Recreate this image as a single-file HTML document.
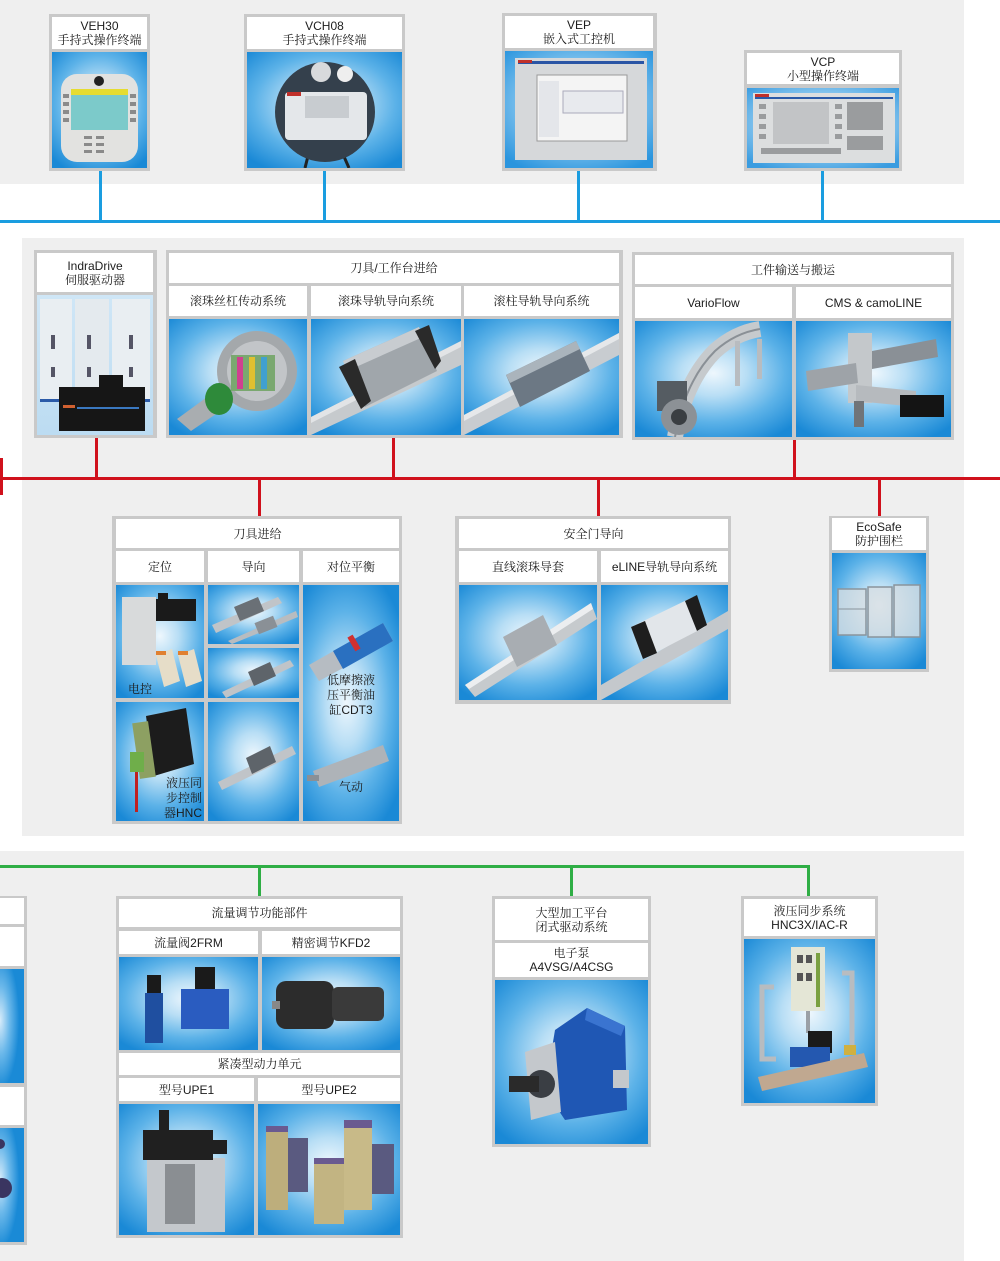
<!DOCTYPE html>
<html><head><meta charset="utf-8">
<style>
*{margin:0;padding:0;box-sizing:border-box}
body{width:1000px;height:1261px;background:#fff;position:relative;overflow:hidden;font-family:"Liberation Sans","Noto Serif CJK SC",serif;color:#1c1c1c}
.p{position:absolute;background:#efefef}
.b{position:absolute;background:#c9c9c9}
.c{position:absolute;background:#fff;display:flex;align-items:center;justify-content:center;text-align:center;font-size:12px;line-height:14px}
.i{position:absolute;background:radial-gradient(ellipse 70% 65% at 50% 45%,#eef7fd 0%,#b8def5 30%,#5cb2e8 65%,#1a89d6 100%);overflow:hidden}
.i svg{position:absolute;left:0;top:0;width:100%;height:100%}
.l{position:absolute}
.t{position:absolute;font-size:12px;line-height:15px;color:#1c1c1c}
</style></head><body>

<!-- panels -->
<div class="p" style="left:0;top:0;width:964px;height:184px"></div>
<div class="p" style="left:22px;top:238px;width:942px;height:598px"></div>
<div class="p" style="left:0;top:851px;width:964px;height:410px"></div>

<!-- blue bus -->
<div class="l" style="left:0;top:220px;width:1000px;height:3px;background:#1a9de0"></div>
<div class="l" style="left:99px;top:170px;width:3px;height:52px;background:#1a9de0"></div>
<div class="l" style="left:323px;top:170px;width:3px;height:52px;background:#1a9de0"></div>
<div class="l" style="left:577px;top:170px;width:3px;height:52px;background:#1a9de0"></div>
<div class="l" style="left:821px;top:170px;width:3px;height:52px;background:#1a9de0"></div>

<!-- red bus -->
<div class="l" style="left:0;top:477px;width:1000px;height:3px;background:#d0111c"></div>
<div class="l" style="left:0;top:458px;width:3px;height:37px;background:#d0111c"></div>
<div class="l" style="left:95px;top:437px;width:3px;height:42px;background:#d0111c"></div>
<div class="l" style="left:392px;top:437px;width:3px;height:42px;background:#d0111c"></div>
<div class="l" style="left:793px;top:439px;width:3px;height:40px;background:#d0111c"></div>
<div class="l" style="left:258px;top:478px;width:3px;height:39px;background:#d0111c"></div>
<div class="l" style="left:597px;top:478px;width:3px;height:39px;background:#d0111c"></div>
<div class="l" style="left:878px;top:478px;width:3px;height:39px;background:#d0111c"></div>

<!-- green bus -->
<div class="l" style="left:0;top:865px;width:810px;height:3px;background:#2fae45"></div>
<div class="l" style="left:258px;top:865px;width:3px;height:32px;background:#2fae45"></div>
<div class="l" style="left:570px;top:865px;width:3px;height:32px;background:#2fae45"></div>
<div class="l" style="left:807px;top:865px;width:3px;height:32px;background:#2fae45"></div>

<!-- ===== TOP ROW ===== -->
<!-- VEH30 -->
<div class="b" style="left:49px;top:14px;width:101px;height:157px"></div>
<div class="c" style="left:52px;top:17px;width:95px;height:32px">VEH30<br>手持式操作终端</div>
<div class="i" style="left:52px;top:52px;width:95px;height:116px"><svg viewBox="0 0 95 116" preserveAspectRatio="none">
<rect x="9" y="22" width="77" height="88" rx="16" fill="#e2e2e0"/>
<circle cx="47" cy="29" r="5" fill="#222"/>
<rect x="19" y="37" width="57" height="6" fill="#e6dc30"/>
<rect x="19" y="43" width="57" height="35" fill="#7ccaca"/>
<g fill="#8a8a8a"><rect x="11" y="42" width="6" height="4"/><rect x="11" y="50" width="6" height="4"/><rect x="11" y="58" width="6" height="4"/><rect x="11" y="66" width="6" height="4"/><rect x="78" y="42" width="6" height="4"/><rect x="78" y="50" width="6" height="4"/><rect x="78" y="58" width="6" height="4"/><rect x="78" y="66" width="6" height="4"/>
<rect x="32" y="84" width="8" height="3"/><rect x="44" y="84" width="8" height="3"/><rect x="32" y="91" width="8" height="3"/><rect x="44" y="91" width="8" height="3"/><rect x="32" y="98" width="8" height="3"/><rect x="44" y="98" width="8" height="3"/></g>
</svg></div>

<!-- VCH08 -->
<div class="b" style="left:244px;top:14px;width:161px;height:157px"></div>
<div class="c" style="left:247px;top:17px;width:155px;height:32px">VCH08<br>手持式操作终端</div>
<div class="i" style="left:247px;top:52px;width:155px;height:116px"><svg viewBox="0 0 155 116" preserveAspectRatio="none">
<path d="M62 100 L58 116 M95 100 L102 116" stroke="#222" stroke-width="3"/>
<circle cx="78" cy="60" r="50" fill="#34404c"/>
<circle cx="74" cy="20" r="10" fill="#d8dadc"/><circle cx="98" cy="22" r="8" fill="#eeeeee"/>
<rect x="38" y="40" width="82" height="48" rx="4" fill="#e4e7ea"/>
<rect x="58" y="44" width="44" height="22" fill="#c8ccd0"/>
<rect x="40" y="40" width="14" height="4" fill="#c0302a"/>
</svg></div>

<!-- VEP -->
<div class="b" style="left:502px;top:13px;width:155px;height:158px"></div>
<div class="c" style="left:505px;top:16px;width:148px;height:32px">VEP<br>嵌入式工控机</div>
<div class="i" style="left:505px;top:51px;width:148px;height:117px;background:radial-gradient(ellipse 70% 65% at 50% 45%,#e8f4fc 0%,#8fcaf0 45%,#2a95de 100%)"><svg viewBox="0 0 148 117" preserveAspectRatio="none">
<rect x="10" y="7" width="132" height="102" fill="#d6d8da"/>
<rect x="13" y="10" width="126" height="3" fill="#2a55a5"/>
<rect x="13" y="9" width="14" height="3" fill="#c0302a"/>
<rect x="32" y="24" width="90" height="66" fill="#f4f4f4" stroke="#9a9a9a"/>
<rect x="34" y="30" width="20" height="56" fill="#e4e6ea"/>
<rect x="58" y="40" width="60" height="22" fill="#e8eaee" stroke="#aab"/>
</svg></div>

<!-- VCP -->
<div class="b" style="left:744px;top:50px;width:158px;height:121px"></div>
<div class="c" style="left:747px;top:53px;width:152px;height:31px">VCP<br>小型操作终端</div>
<div class="i" style="left:747px;top:88px;width:152px;height:80px;background:radial-gradient(ellipse 70% 65% at 50% 45%,#e8f4fc 0%,#9fd2f2 45%,#3a9ce0 100%)"><svg viewBox="0 0 152 80" preserveAspectRatio="none">
<rect x="6" y="5" width="142" height="70" fill="#dcdedf"/>
<rect x="8" y="9" width="138" height="2" fill="#2a5aa8"/>
<rect x="8" y="6" width="14" height="3" fill="#c0302a"/>
<rect x="26" y="14" width="56" height="42" fill="#c2c4c6"/>
<g fill="#9a9c9e"><rect x="12" y="16" width="7" height="5"/><rect x="12" y="26" width="7" height="5"/><rect x="12" y="36" width="7" height="5"/><rect x="12" y="46" width="7" height="5"/><rect x="88" y="16" width="7" height="5"/><rect x="88" y="26" width="7" height="5"/><rect x="88" y="36" width="7" height="5"/><rect x="88" y="46" width="7" height="5"/>
<rect x="100" y="14" width="36" height="28"/><rect x="100" y="48" width="36" height="14"/>
<rect x="14" y="60" width="80" height="6"/></g>
</svg></div>

<!-- ===== MIDDLE ROW ===== -->
<!-- IndraDrive -->
<div class="b" style="left:34px;top:250px;width:123px;height:188px"></div>
<div class="c" style="left:37px;top:253px;width:116px;height:39px">IndraDrive<br>伺服驱动器</div>
<div class="i" style="left:37px;top:295px;width:116px;height:140px;background:linear-gradient(180deg,#cfe6f6,#bcdcf2)"><svg viewBox="0 0 116 140" preserveAspectRatio="none">
<rect x="3" y="4" width="32" height="100" fill="#e9eef2"/>
<rect x="38" y="4" width="34" height="100" fill="#e4eaee"/>
<rect x="75" y="4" width="38" height="100" fill="#e9eef2"/>
<g fill="#556"><rect x="14" y="40" width="4" height="14"/><rect x="50" y="40" width="4" height="14"/><rect x="92" y="40" width="4" height="14"/><rect x="14" y="72" width="4" height="10"/><rect x="50" y="72" width="4" height="10"/><rect x="92" y="72" width="4" height="10"/></g>
<rect x="3" y="104" width="110" height="3" fill="#2a5aa8"/>
<rect x="22" y="92" width="86" height="44" fill="#161616"/>
<rect x="62" y="80" width="24" height="16" fill="#161616"/>
<rect x="26" y="110" width="12" height="3" fill="#d06030"/>
<rect x="40" y="112" width="62" height="2" fill="#3a78c0"/>
</svg></div>

<!-- 刀具/工作台进给 -->
<div class="b" style="left:166px;top:250px;width:457px;height:188px"></div>
<div class="c" style="left:169px;top:253px;width:450px;height:30px">刀具/工作台进给</div>
<div class="c" style="left:169px;top:286px;width:138px;height:30px">滚珠丝杠传动系统</div>
<div class="c" style="left:311px;top:286px;width:150px;height:30px">滚珠导轨导向系统</div>
<div class="c" style="left:464px;top:286px;width:155px;height:30px">滚柱导轨导向系统</div>
<div class="i" style="left:169px;top:319px;width:138px;height:116px"><svg viewBox="0 0 138 116" preserveAspectRatio="none">
<polygon points="8,100 60,62 72,78 22,112" fill="#a9adb0"/>
<circle cx="88" cy="52" r="40" fill="#a4a8ab"/>
<circle cx="88" cy="52" r="30" fill="#c2c5c8"/>
<rect x="62" y="36" width="44" height="36" fill="#7aa870"/>
<rect x="68" y="38" width="6" height="32" fill="#d04090"/><rect x="80" y="38" width="6" height="32" fill="#e0c030"/><rect x="92" y="38" width="6" height="32" fill="#40a0d0"/>
<ellipse cx="50" cy="80" rx="14" ry="16" fill="#2e8a3a"/>
</svg></div>
<div class="i" style="left:311px;top:319px;width:150px;height:116px"><svg viewBox="0 0 150 116" preserveAspectRatio="none">
<polygon points="0,98 150,22 150,46 0,116" fill="#c6cacd"/>
<polygon points="0,98 150,22 150,28 0,104" fill="#e2e4e6"/>
<polygon points="32,42 108,8 126,52 54,88" fill="#a0a6ab"/>
<polygon points="32,42 108,8 112,18 36,52" fill="#c8ccd0"/>
<polygon points="28,48 44,40 60,82 50,90" fill="#2a2a2a"/>
<polygon points="104,12 118,6 130,42 124,50" fill="#2a2a2a"/>
</svg></div>
<div class="i" style="left:464px;top:319px;width:155px;height:116px"><svg viewBox="0 0 155 116" preserveAspectRatio="none">
<polygon points="0,96 155,14 155,36 0,116" fill="#c8ccd0"/>
<polygon points="0,96 155,14 155,20 0,102" fill="#e6e8ea"/>
<polygon points="42,56 112,22 126,52 56,88" fill="#6c7884"/>
<polygon points="42,56 112,22 116,30 46,64" fill="#aab4bc"/>
</svg></div>

<!-- 工件输送与搬运 -->
<div class="b" style="left:632px;top:252px;width:322px;height:188px"></div>
<div class="c" style="left:635px;top:255px;width:316px;height:29px">工件输送与搬运</div>
<div class="c" style="left:635px;top:287px;width:157px;height:31px">VarioFlow</div>
<div class="c" style="left:796px;top:287px;width:155px;height:31px">CMS &amp; camoLINE</div>
<div class="i" style="left:635px;top:321px;width:157px;height:116px"><svg viewBox="0 0 157 116" preserveAspectRatio="none">
<path d="M40 116 Q50 60 80 30 Q100 12 125 8" stroke="#c6cacd" stroke-width="16" fill="none"/>
<path d="M40 116 Q50 60 80 30 Q100 12 125 8" stroke="#8a9096" stroke-width="2" fill="none"/>
<rect x="100" y="20" width="5" height="45" fill="#b8bcc0"/>
<rect x="122" y="18" width="5" height="40" fill="#b8bcc0"/>
<rect x="22" y="60" width="30" height="30" fill="#555c62"/>
<circle cx="44" cy="96" r="18" fill="#8c9196"/>
<circle cx="44" cy="96" r="8" fill="#3a3e42"/>
</svg></div>
<div class="i" style="left:796px;top:321px;width:155px;height:116px"><svg viewBox="0 0 155 116" preserveAspectRatio="none">
<rect x="52" y="12" width="24" height="70" fill="#c4c8cb"/>
<polygon points="76,30 140,18 142,36 76,48" fill="#8a9096"/>
<polygon points="10,50 60,42 62,62 12,70" fill="#9ea3a8"/>
<polygon points="60,64 120,70 120,86 60,80" fill="#b6babe"/>
<rect x="104" y="74" width="44" height="22" fill="#141414"/>
<rect x="58" y="80" width="10" height="26" fill="#707478"/>
</svg></div>

<!-- 刀具进给 -->
<div class="b" style="left:112px;top:516px;width:290px;height:308px"></div>
<div class="c" style="left:116px;top:519px;width:283px;height:29px">刀具进给</div>
<div class="c" style="left:116px;top:551px;width:88px;height:31px">定位</div>
<div class="c" style="left:208px;top:551px;width:91px;height:31px">导向</div>
<div class="c" style="left:303px;top:551px;width:96px;height:31px">对位平衡</div>
<div class="i" style="left:116px;top:585px;width:88px;height:113px"><svg viewBox="0 0 88 113" preserveAspectRatio="none">
<rect x="6" y="12" width="34" height="68" fill="#d8dadb"/>
<rect x="40" y="14" width="40" height="22" fill="#1a1a1a"/>
<rect x="42" y="8" width="10" height="10" fill="#1a1a1a"/>
<polygon points="40,70 56,64 64,96 48,102" fill="#e6ddc8"/>
<polygon points="62,70 78,64 86,96 70,102" fill="#e6ddc8"/>
<rect x="40" y="66" width="10" height="4" fill="#e08030"/><rect x="62" y="66" width="10" height="4" fill="#e08030"/>
</svg><div class="t" style="left:12px;top:97px">电控</div></div>
<div class="i" style="left:116px;top:702px;width:88px;height:119px"><svg viewBox="0 0 88 119" preserveAspectRatio="none">
<polygon points="30,14 70,6 78,62 38,74" fill="#1c1c1c"/>
<rect x="20" y="20" width="16" height="56" fill="#8da062" transform="rotate(-8 28 48)"/>
<rect x="14" y="50" width="14" height="20" fill="#6fae4a"/>
<rect x="19" y="70" width="3" height="40" fill="#c02020"/>
</svg><div class="t" style="left:46px;top:74px;text-align:right;width:40px">液压同<br>步控制<br>器HNC</div></div>
<div class="i" style="left:208px;top:585px;width:91px;height:59px"><svg viewBox="0 0 91 59" preserveAspectRatio="none">
<polygon points="4,40 70,12 74,18 8,48" fill="#c0c4c8"/>
<polygon points="26,22 50,12 56,26 32,36" fill="#6a7076"/>
<polygon points="20,56 88,26 90,32 24,59" fill="#b8bcc0"/>
<rect x="48" y="34" width="20" height="12" fill="#8a9096" transform="rotate(-22 58 40)"/>
</svg></div>
<div class="i" style="left:208px;top:648px;width:91px;height:50px"><svg viewBox="0 0 91 50" preserveAspectRatio="none">
<polygon points="14,44 82,12 86,18 18,50" fill="#c0c4c8"/>
<polygon points="40,24 62,14 68,28 46,38" fill="#5e646a"/>
</svg></div>
<div class="i" style="left:208px;top:702px;width:91px;height:119px"><svg viewBox="0 0 91 119" preserveAspectRatio="none">
<polygon points="10,80 84,44 88,52 14,88" fill="#c0c4c8"/>
<polygon points="38,56 62,44 68,60 44,72" fill="#5e646a"/>
</svg></div>
<div class="i" style="left:303px;top:585px;width:96px;height:236px;background:radial-gradient(ellipse 70% 60% at 45% 50%,#eef7fd 0%,#b8def5 30%,#5cb2e8 65%,#1a89d6 100%)"><svg viewBox="0 0 96 236" preserveAspectRatio="none">
<polygon points="6,80 80,38 90,56 16,96" fill="#b6bcc2"/>
<polygon points="30,66 80,38 90,56 40,84" fill="#2a70c0"/>
<rect x="48" y="50" width="6" height="16" fill="#d03030" transform="rotate(-30 51 58)"/>
<polygon points="10,186 80,160 86,176 16,202" fill="#aeb3b8"/>
<rect x="4" y="190" width="12" height="6" fill="#8a9096"/>
</svg><div class="t" style="left:0;top:88px;width:96px;text-align:center">低摩擦液<br>压平衡油<br>缸CDT3</div><div class="t" style="left:0;top:195px;width:96px;text-align:center">气动</div></div>

<!-- 安全门导向 -->
<div class="b" style="left:455px;top:516px;width:276px;height:188px"></div>
<div class="c" style="left:459px;top:519px;width:269px;height:29px">安全门导向</div>
<div class="c" style="left:459px;top:551px;width:138px;height:31px">直线滚珠导套</div>
<div class="c" style="left:601px;top:551px;width:127px;height:31px">eLINE导轨导向系统</div>
<div class="i" style="left:459px;top:585px;width:138px;height:115px"><svg viewBox="0 0 138 115" preserveAspectRatio="none">
<polygon points="6,100 132,18 138,34 16,112" fill="#c6cacd"/>
<polygon points="6,100 132,18 134,24 10,104" fill="#eceef0"/>
<polygon points="44,52 84,30 98,60 58,82" fill="#a8adb2"/>
</svg></div>
<div class="i" style="left:601px;top:585px;width:127px;height:115px"><svg viewBox="0 0 127 115" preserveAspectRatio="none">
<polygon points="0,100 127,26 127,44 0,115" fill="#c4c8cc"/>
<polygon points="30,42 92,12 104,42 42,74" fill="#e2e6ea"/>
<polygon points="30,42 44,36 56,68 42,74" fill="#1e1e1e"/>
<polygon points="84,16 96,10 106,40 96,46" fill="#1e1e1e"/>
</svg></div>

<!-- EcoSafe -->
<div class="b" style="left:829px;top:516px;width:100px;height:156px"></div>
<div class="c" style="left:832px;top:518px;width:94px;height:32px">EcoSafe<br>防护围栏</div>
<div class="i" style="left:832px;top:553px;width:94px;height:116px"><svg viewBox="0 0 94 116" preserveAspectRatio="none">
<g fill="#d6dde2" fill-opacity="0.8" stroke="#8a949c" stroke-width="1.5">
<rect x="6" y="36" width="28" height="46"/><rect x="36" y="34" width="24" height="50"/><rect x="62" y="32" width="26" height="52"/></g>
<line x1="6" y1="56" x2="34" y2="56" stroke="#8a949c"/>
</svg></div>

<!-- ===== BOTTOM ROW ===== -->
<!-- left partial -->
<div class="b" style="left:0;top:896px;width:27px;height:349px"></div>
<div class="c" style="left:0;top:898px;width:24px;height:26px"></div>
<div class="c" style="left:0;top:927px;width:24px;height:39px"></div>
<div class="i" style="left:0;top:969px;width:24px;height:114px;background:radial-gradient(ellipse 80% 60% at 0% 45%,#d8ecfa 0%,#6bb8ea 50%,#1a8ad6 100%)"></div>
<div class="c" style="left:0;top:1087px;width:24px;height:38px"></div>
<div class="i" style="left:0;top:1128px;width:24px;height:114px;background:radial-gradient(ellipse 80% 60% at 0% 45%,#d8ecfa 0%,#6bb8ea 50%,#1a8ad6 100%)"><svg viewBox="0 0 24 114" preserveAspectRatio="none"><circle cx="2" cy="60" r="10" fill="#3a3560"/><circle cx="0" cy="16" r="5" fill="#3a3560"/></svg></div>

<!-- 流量调节功能部件 -->
<div class="b" style="left:116px;top:896px;width:287px;height:342px"></div>
<div class="c" style="left:119px;top:899px;width:281px;height:28px">流量调节功能部件</div>
<div class="c" style="left:119px;top:931px;width:139px;height:23px">流量阀2FRM</div>
<div class="c" style="left:262px;top:931px;width:138px;height:23px">精密调节KFD2</div>
<div class="i" style="left:119px;top:957px;width:139px;height:93px"><svg viewBox="0 0 139 93" preserveAspectRatio="none">
<rect x="26" y="36" width="18" height="50" fill="#1f4fa0"/>
<rect x="28" y="18" width="14" height="18" fill="#1a1a1a"/>
<rect x="62" y="32" width="48" height="40" fill="#2a5cc0"/>
<rect x="76" y="10" width="20" height="22" fill="#1a1a1a"/>
</svg></div>
<div class="i" style="left:262px;top:957px;width:138px;height:93px"><svg viewBox="0 0 138 93" preserveAspectRatio="none">
<rect x="14" y="24" width="58" height="48" rx="10" fill="#2c2c2c"/>
<rect x="70" y="30" width="52" height="34" rx="6" fill="#3a3a3a"/>
<rect x="10" y="44" width="8" height="8" fill="#888"/>
</svg></div>
<div class="c" style="left:119px;top:1053px;width:281px;height:22px">紧凑型动力单元</div>
<div class="c" style="left:119px;top:1078px;width:135px;height:23px">型号UPE1</div>
<div class="c" style="left:258px;top:1078px;width:142px;height:23px">型号UPE2</div>
<div class="i" style="left:119px;top:1104px;width:135px;height:131px"><svg viewBox="0 0 135 131" preserveAspectRatio="none">
<rect x="28" y="54" width="78" height="74" fill="#c4c8cc"/>
<rect x="46" y="60" width="30" height="60" fill="#8a8e92"/>
<rect x="24" y="26" width="70" height="30" fill="#202020"/>
<rect x="40" y="6" width="10" height="22" fill="#202020"/>
<rect x="84" y="36" width="24" height="14" fill="#202020"/>
</svg></div>
<div class="i" style="left:258px;top:1104px;width:142px;height:131px"><svg viewBox="0 0 142 131" preserveAspectRatio="none">
<rect x="8" y="26" width="22" height="80" fill="#bdae7c"/>
<rect x="30" y="34" width="20" height="54" fill="#5a5a80"/>
<rect x="56" y="58" width="30" height="62" fill="#c2b482"/>
<rect x="86" y="20" width="28" height="86" fill="#c8ba88"/>
<rect x="114" y="40" width="22" height="50" fill="#5a5a80"/>
<rect x="86" y="16" width="28" height="8" fill="#6a5a90"/><rect x="8" y="22" width="22" height="6" fill="#6a5a90"/><rect x="56" y="54" width="30" height="6" fill="#6a5a90"/>
</svg></div>

<!-- 大型加工平台 -->
<div class="b" style="left:492px;top:896px;width:159px;height:251px"></div>
<div class="c" style="left:495px;top:899px;width:153px;height:41px">大型加工平台<br>闭式驱动系统</div>
<div class="c" style="left:495px;top:943px;width:153px;height:34px">电子泵<br>A4VSG/A4CSG</div>
<div class="i" style="left:495px;top:980px;width:153px;height:164px"><svg viewBox="0 0 153 164" preserveAspectRatio="none">
<polygon points="60,50 92,28 130,46 132,130 70,140 50,110" fill="#1f57b4"/>
<polygon points="92,28 130,46 126,56 90,40" fill="#3a74d0"/>
<polygon points="30,72 60,62 66,132 36,140" fill="#c4c8cc"/>
<circle cx="46" cy="104" r="14" fill="#3a3e44"/>
<rect x="14" y="96" width="30" height="16" fill="#2a2a2a"/>
<rect x="118" y="90" width="16" height="18" fill="#c4c8cc"/>
</svg></div>

<!-- 液压同步系统 -->
<div class="b" style="left:741px;top:896px;width:137px;height:210px"></div>
<div class="c" style="left:744px;top:899px;width:131px;height:37px">液压同步系统<br>HNC3X/IAC-R</div>
<div class="i" style="left:744px;top:939px;width:131px;height:164px"><svg viewBox="0 0 131 164" preserveAspectRatio="none">
<rect x="47" y="8" width="34" height="64" fill="#e4e6d6"/>
<rect x="72" y="14" width="4" height="54" fill="#7aa040"/>
<g fill="#555"><rect x="53" y="16" width="6" height="8"/><rect x="62" y="16" width="6" height="8"/><rect x="53" y="34" width="6" height="8"/><rect x="62" y="34" width="6" height="8"/></g>
<path d="M30 48 H18 V120 H32" stroke="#b8bcc0" stroke-width="5" fill="none"/>
<path d="M98 34 H108 V108" stroke="#b8bcc0" stroke-width="5" fill="none"/>
<rect x="62" y="72" width="4" height="22" fill="#9aa0a6"/>
<rect x="64" y="92" width="24" height="22" fill="#1a1a1a"/>
<rect x="46" y="108" width="40" height="20" fill="#2458b0"/>
<polygon points="14,138 120,114 124,128 18,152" fill="#c0a890"/>
<rect x="100" y="106" width="12" height="10" fill="#d0b040"/>
</svg></div>

</body></html>
